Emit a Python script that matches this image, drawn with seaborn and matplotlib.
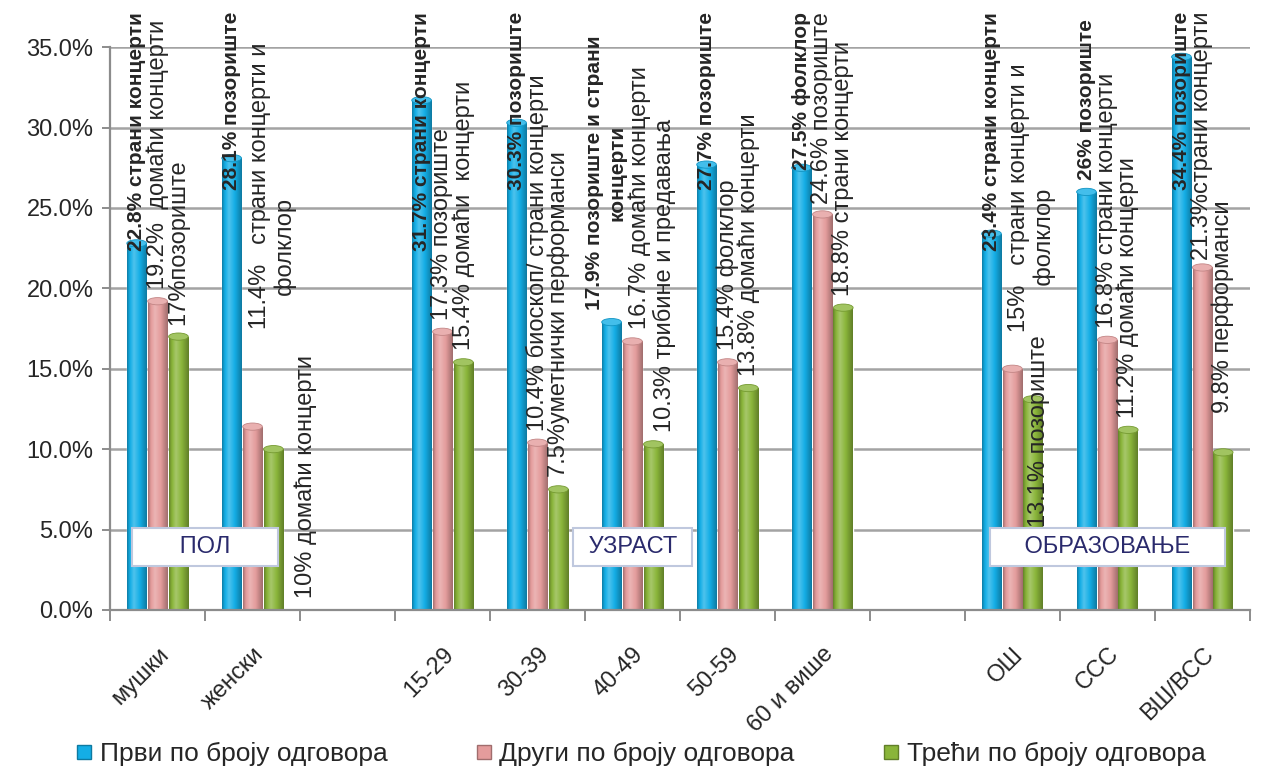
import numpy as np
import pandas as pd
import matplotlib
matplotlib.use("Agg")
import matplotlib.pyplot as plt
import matplotlib.colors as mcolors
from matplotlib.patches import Ellipse
from matplotlib.lines import Line2D
import seaborn as sns

# ---------------- data ----------------
categories = ["мушки", "женски", " ", "15-29", "30-39", "40-49", "50-59", "60 и више", "  ", "ОШ", "ССС", "ВШ/ВСС"]
data_cats = ["мушки", "женски", "15-29", "30-39", "40-49", "50-59", "60 и више", "ОШ", "ССС", "ВШ/ВСС"]

series_names = ["Први по броју одговора", "Други по броју одговора", "Трећи по броју одговора"]

first_vals = [22.8, 28.1, 31.7, 30.3, 17.9, 27.7, 27.5, 23.4, 26.0, 34.4]
second_vals = [19.2, 11.4, 17.3, 10.4, 16.7, 15.4, 24.6, 15.0, 16.8, 21.3]
third_vals = [17.0, 10.0, 15.4, 7.5, 10.3, 13.8, 18.8, 13.1, 11.2, 9.8]

first_labels = ["22.8% страни концерти", "28.1% позориште", "31.7% страни концерти", "30.3% позориште",
                "17.9% позориште и страни\nконцерти", "27.7% позориште", "27.5% фолклор",
                "23.4% страни концерти", "26% позориште", "34.4% позориште"]
second_labels = ["19.2%  домаћи концерти", "11.4%   страни концерти и\n     фолклор", "17.3% позориште",
                 "10.4% биоскоп/ страни концерти", "16.7% домаћи концерти", "15.4% фолклор",
                 "24.6% позориште", "15%   страни концерти и\n       фолклор", "16.8% страни концерти",
                 "21.3%страни концерти"]
third_labels = ["17%позориште", "10% домаћи концерти", "15.4% домаћи  концерти", "7.5%уметнички перформанси",
                "10.3% трибине и предавања", "13.8% домаћи концерти", "18.8% страни концерти",
                "13.1% позориште", "11.2% домаћи концерти", "9.8% перформанси"]

groups = {"ПОЛ": ["мушки", "женски"],
          "УЗРАСТ": ["15-29", "30-39", "40-49", "50-59", "60 и више"],
          "ОБРАЗОВАЊЕ": ["ОШ", "ССС", "ВШ/ВСС"]}

y_ticks = [0, 5, 10, 15, 20, 25, 30, 35]

# ---------------- style ----------------
colors = ["#14AEE6", "#E49C9C", "#8AB53A"]
# (category index, series index): (dx px, dy px) nudges for a few labels
label_nudges = {(1, 1): (0, 86), (1, 2): (32, -161), (7, 1): (0, 25), (7, 2): (6, -140),
                (9, 2): (0, 27), (4, 0): (-6, 0), (4, 1): (7, 0), (4, 2): (11, 0)}

sns.set_theme(style="white")
plt.rcParams["font.family"] = ["Liberation Sans", "DejaVu Sans"]

df = pd.DataFrame({
    "cat": data_cats * 3,
    "val": first_vals + second_vals + third_vals,
    "series": [s for s in series_names for _ in data_cats],
})

fig = plt.figure(figsize=(12.65, 7.74), dpi=100)
ax = fig.add_axes([0.087, 0.212, 0.901, 0.727])

sns.barplot(data=df, x="cat", y="val", hue="series", order=categories, hue_order=series_names,
            palette=colors, width=0.66, gap=0.06, saturation=1, errorbar=None, legend=False, ax=ax)


def shade(c, f):
    r = np.array(mcolors.to_rgb(c))
    if f >= 1:
        return r + (1 - r) * (f - 1)
    return r * f


# cylinder-like shading derived from each bar patch
profile_t = np.linspace(0, 1, 64)
profile_f = np.interp(profile_t, [0, 0.12, 0.35, 0.7, 1.0], [0.72, 0.95, 1.25, 0.95, 0.7])
for ci, cont in enumerate(ax.containers):
    base = colors[ci]
    grad = np.array([shade(base, f) for f in profile_f])[None, :, :]
    for bar in cont:
        x0, w, h = bar.get_x(), bar.get_width(), bar.get_height()
        if not np.isfinite(h) or h <= 0:
            continue
        im = ax.imshow(grad, extent=(x0, x0 + w, 0, h), aspect="auto", zorder=2.1,
                       interpolation="bilinear")
        im.set_clip_path(bar)
        cap = Ellipse((x0 + w / 2, h), w, 0.45, facecolor=shade(base, 1.2),
                      edgecolor=shade(base, 0.85), lw=0.6, zorder=2.2)
        ax.add_patch(cap)

ax.set_xlim(-0.5, len(categories) - 0.5)
ax.set_ylim(0, 35)

# grid / spines
ax.set_axisbelow(True)
ax.yaxis.grid(True, color="#A3A3A3", lw=1.8)
for s in ["top", "right"]:
    ax.spines[s].set_visible(False)
for s in ["left", "bottom"]:
    ax.spines[s].set_color("#8C8C8C")
    ax.spines[s].set_linewidth(1.6)

ax.set_yticks(y_ticks)
ax.set_yticklabels([f"{v:.1f}%" for v in y_ticks], fontsize=17)
ax.tick_params(axis="y", length=6, width=1.4, color="#8C8C8C", pad=6, left=True)

ax.set_xticks(range(len(categories)))
ax.set_xticklabels([c.strip() for c in categories], rotation=45, ha="right",
                   rotation_mode="anchor", fontsize=17)
ax.tick_params(axis="x", which="major", length=0, pad=24)
ax.set_xticks(np.arange(-0.5, len(categories)), minor=True)
ax.tick_params(axis="x", which="minor", length=8, width=1.4, color="#8C8C8C", bottom=True)
ax.set_xlabel("")
ax.set_ylabel("")

# group boxes
box_text = {"ПОЛ": "      ПОЛ      ", "УЗРАСТ": " УЗРАСТ ", "ОБРАЗОВАЊЕ": "    ОБРАЗОВАЊЕ    "}
for name, members in groups.items():
    cx = np.mean([categories.index(m) for m in members])
    ax.text(cx, 3.9, box_text[name], ha="center", va="center", fontsize=17, color="#2A2A6C", zorder=5,
            bbox=dict(boxstyle="square,pad=0.35", facecolor="white", edgecolor="#BFC8DE", lw=1.5))

# data labels
all_labels = [first_labels, second_labels, third_labels]
anns = []
for si, cont in enumerate(ax.containers):
    for bar in cont:
        h = bar.get_height()
        if not np.isfinite(h) or h <= 0:
            continue
        xc = bar.get_x() + bar.get_width() / 2
        slot = int(round(xc))
        di = data_cats.index(categories[slot])
        text = all_labels[si][di]
        dx, dy = label_nudges.get((di, si), (0, 0))
        multiline = "\n" in text
        ha = "left" if (multiline and si > 0) else "center"
        if ha == "left":
            dx -= 4
        a = ax.annotate(text, xy=(xc, h), xytext=(dx, 12 + dy),
                        textcoords="offset pixels", rotation=90, ha=ha, va="bottom",
                        multialignment="left" if si > 0 else "center",
                        fontsize=15 if si == 0 else 17,
                        fontweight="bold" if si == 0 else "normal", zorder=6,
                        annotation_clip=False)
        anns.append(a)

fig.canvas.draw()
top_limit = fig.bbox.height - 12
for a in anns:
    bb = a.get_window_extent()
    if bb.y1 > top_limit:
        ox, oy = a.xyann
        a.xyann = (ox, oy - (bb.y1 - top_limit))

# legend
handles = [Line2D([0], [0], marker="s", linestyle="none", markersize=10,
                  markerfacecolor=c, markeredgecolor=shade(c, 0.7)) for c in colors]
fig.legend(handles, series_names, loc="center", bbox_to_anchor=(0.506, 0.026), ncol=3,
           frameon=False, fontsize=19, handlelength=0.7, handletextpad=0.25, columnspacing=3.3)

fig.savefig("out.png", dpi=100)
